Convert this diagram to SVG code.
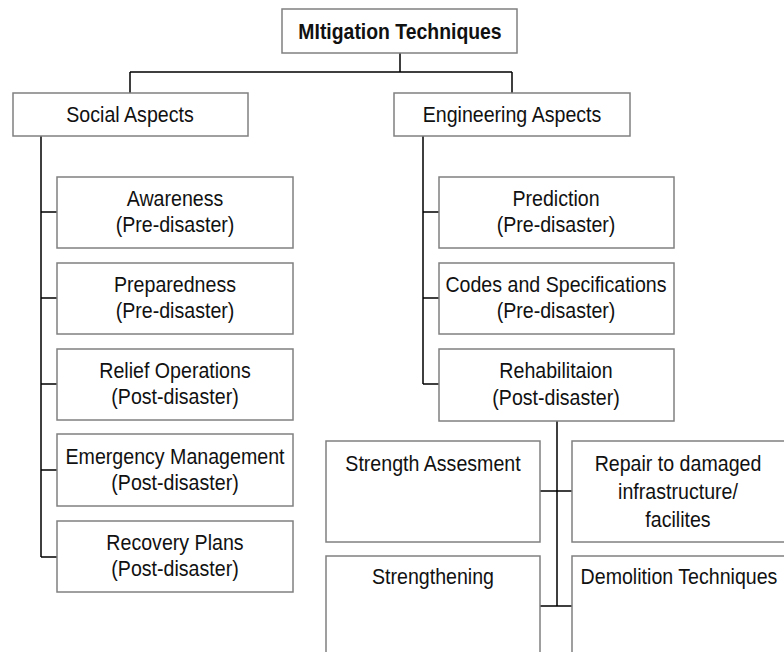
<svg xmlns="http://www.w3.org/2000/svg" width="784" height="652" viewBox="0 0 784 652">
<style>
rect.box{fill:#fff;stroke:#808080;stroke-width:1.5}
text{font-family:"Liberation Sans",Arial,sans-serif;font-size:19.6px;fill:#111;text-anchor:middle}
text.b{font-weight:bold;font-size:19.4px}
.con{fill:none;stroke:#000;stroke-width:1.5}
</style>
<rect width="784" height="652" fill="#fff"/>
<g id="connectors" class="con">
<path d="M400,53V72M130,72H512M130,72V93M512,72V93"/>
<path d="M41,136V557M41,212H57M41,298H57M41,384H57M41,470H57M41,557H57"/>
<path d="M423,136V384M423,212H439M423,298H439M423,384H439"/>
<path d="M557,421V606M540,491H572M540,606H572"/>
</g>
<g id="n-root"><rect class="box" x="282" y="9" width="235" height="44"/><text class="b" transform="translate(400,39) scale(1,1.17)">MItigation Techniques</text></g>
<g id="n-social"><rect class="box" x="13" y="93" width="235" height="43"/><text transform="translate(130,122) scale(1,1.17)">Social Aspects</text></g>
<g id="n-eng"><rect class="box" x="394" y="93" width="236" height="43"/><text transform="translate(512,122) scale(1,1.17)">Engineering Aspects</text></g>
<g id="n-awareness"><rect class="box" x="57" y="177" width="236" height="71"/><text transform="translate(175,206) scale(1,1.17)">Awareness</text><text transform="translate(175,232) scale(1,1.17)">(Pre-disaster)</text></g>
<g id="n-preparedness"><rect class="box" x="57" y="263" width="236" height="71"/><text transform="translate(175,292) scale(1,1.17)">Preparedness</text><text transform="translate(175,318) scale(1,1.17)">(Pre-disaster)</text></g>
<g id="n-relief"><rect class="box" x="57" y="349" width="236" height="71"/><text transform="translate(175,378) scale(1,1.17)">Relief Operations</text><text transform="translate(175,404) scale(1,1.17)">(Post-disaster)</text></g>
<g id="n-emergency"><rect class="box" x="57" y="434" width="236" height="72"/><text transform="translate(175,464) scale(1,1.17)">Emergency Management</text><text transform="translate(175,490) scale(1,1.17)">(Post-disaster)</text></g>
<g id="n-recovery"><rect class="box" x="57" y="521" width="236" height="71"/><text transform="translate(175,550) scale(1,1.17)">Recovery Plans</text><text transform="translate(175,576) scale(1,1.17)">(Post-disaster)</text></g>
<g id="n-prediction"><rect class="box" x="439" y="177" width="235" height="71"/><text transform="translate(556,206) scale(1,1.17)">Prediction</text><text transform="translate(556,232) scale(1,1.17)">(Pre-disaster)</text></g>
<g id="n-codes"><rect class="box" x="439" y="263" width="235" height="71"/><text transform="translate(556,292) scale(1,1.17)">Codes and Specifications</text><text transform="translate(556,318) scale(1,1.17)">(Pre-disaster)</text></g>
<g id="n-rehab"><rect class="box" x="439" y="349" width="235" height="72"/><text transform="translate(556,378) scale(1,1.17)">Rehabilitaion</text><text transform="translate(556,405) scale(1,1.17)">(Post-disaster)</text></g>
<g id="n-strength"><rect class="box" x="326" y="441" width="214" height="101"/><text transform="translate(433,471) scale(1,1.17)">Strength Assesment</text></g>
<g id="n-repair"><rect class="box" x="572" y="441" width="213" height="101"/><text transform="translate(678,471) scale(1,1.17)">Repair to damaged</text><text transform="translate(678,499) scale(1,1.17)">infrastructure/</text><text transform="translate(678,527) scale(1,1.17)">facilites</text></g>
<g id="n-strengthening"><rect class="box" x="326" y="556" width="214" height="100"/><text transform="translate(433,584) scale(1,1.17)">Strengthening</text></g>
<g id="n-demolition"><rect class="box" x="572" y="556" width="213" height="100"/><text transform="translate(679,584) scale(1,1.17)">Demolition Techniques</text></g>
</svg>
